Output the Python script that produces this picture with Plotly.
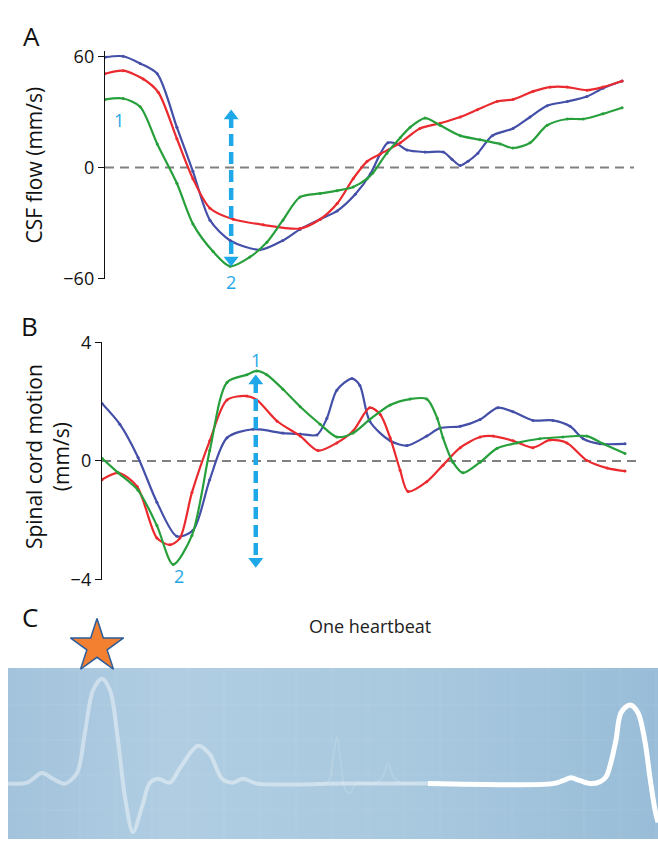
import plotly.graph_objects as go

# ---------------- Panel A: CSF flow (mm/s) ----------------
a_blue_t = [0, 3.5, 6.8, 10.1, 13.9, 17.0, 20.3, 24.2, 30.0, 34.4, 37.7, 41.6, 44.9, 48.4, 51.3,
            53.2, 54.7, 56.5, 58.4, 61.9, 65.4, 67.1, 68.7, 70.2, 72.1, 74.9, 78.9, 82.2, 85.5,
            89.4, 93.2, 96.3, 100]
a_blue = [59.8, 60.3, 56.4, 50.8, 21.8, -2.0, -28.5, -39.5, -44.5, -39.5, -33.5, -28.0, -23.5,
          -14.5, -3.5, 7.3, 13.4, 12.8, 9.5, 8.4, 8.4, 4.5, 1.1, 3.4, 7.8, 17.3, 21.2, 27.4, 33.5,
          35.8, 38.5, 43.0, 46.9]

a_red_t = [0, 3.5, 7.4, 10.3, 13.9, 17.0, 20.3, 24.8, 30.6, 37.7, 41.6, 44.9, 48.0, 50.7, 53.2,
           57.1, 60.9, 64.8, 68.7, 72.0, 75.8, 78.9, 82.8, 86.1, 89.4, 93.2, 96.3, 100]
a_red = [50.8, 52.5, 48.0, 40.8, 15.6, -6.0, -22.0, -28.0, -31.0, -33.0, -28.0, -19.5, -6.0, 3.4,
         7.3, 13.4, 21.2, 24.0, 27.4, 31.3, 35.8, 36.9, 41.3, 43.6, 43.6, 41.9, 43.6, 46.9]

a_green_t = [0, 3.5, 6.8, 10.1, 13.9, 17.0, 20.9, 24.2, 28.0, 31.3, 34.4, 37.7, 41.6, 44.9, 48.0,
             50.7, 51.8, 54.5, 57.1, 59.0, 61.9, 64.8, 68.7, 72.5, 76.4, 78.9, 82.2, 85.5, 89.4,
             92.5, 96.3, 100]
a_green = [36.9, 37.4, 33.0, 12.8, -8.5, -30.5, -45.5, -53.5, -48.5, -40.5, -28.5, -16.0, -14.0,
           -12.5, -10.5, -6.0, -3.0, 7.8, 16.2, 21.8, 26.8, 22.9, 17.3, 15.1, 12.8, 10.6, 13.4,
           22.9, 26.3, 26.3, 29.1, 32.4]

a_ticks = [-60, 0, 60]
a_arrow_t, a_arrow_top, a_arrow_bot = 24.4, 28.0, -50.0
a_label1 = (2.7, 25.7)
a_label2 = (24.4, -62.0)

# ---------------- Panel B: spinal cord motion (mm/s) ----------------
b_blue_t = [0, 3.4, 6.9, 10.5, 14.3, 17.4, 20.6, 23.9, 28.9, 34.6, 37.9, 41.1, 43.0, 44.9, 47.8,
            49.3, 51.2, 55.1, 58.3, 62.1, 64.6, 68.5, 72.3, 75.7, 78.6, 82.4, 86.2, 89.5, 92.0,
            95.2, 100]
b_blue = [1.94, 1.24, 0.12, -1.39, -2.54, -2.34, -0.63, 0.78, 1.07, 0.94, 0.91, 0.88, 1.44, 2.39,
          2.78, 2.55, 1.34, 0.68, 0.52, 0.84, 1.11, 1.17, 1.40, 1.80, 1.66, 1.37, 1.37, 1.17, 0.75,
          0.58, 0.58]

b_green_t = [0, 3.1, 6.9, 10.5, 13.6, 17.2, 20.6, 23.9, 27.7, 29.6, 31.5, 34.6, 37.9, 41.7, 44.9,
             48.0, 51.2, 55.1, 58.9, 62.1, 64.1, 65.2, 67.1, 69.0, 72.3, 75.5, 79.3, 83.7, 88.1,
             92.7, 95.8, 100]
b_green = [0.09, -0.40, -0.99, -2.18, -3.49, -2.51, 0.35, 2.65, 2.91, 3.04, 2.91, 2.42, 1.83, 1.24,
           0.81, 0.94, 1.40, 1.89, 2.09, 2.09, 1.44, 0.78, -0.04, -0.40, -0.04, 0.42, 0.61, 0.75,
           0.81, 0.84, 0.58, 0.25]

b_red_t = [0, 3.1, 6.7, 10.5, 13.0, 14.9, 17.2, 20.6, 23.9, 27.7, 29.6, 33.5, 37.9, 41.3, 44.9,
           48.0, 51.2, 53.2, 55.1, 57.0, 58.5, 62.1, 65.2, 68.5, 72.3, 74.8, 78.6, 82.4, 85.7,
           88.9, 92.7, 96.6, 100]
b_red = [-0.63, -0.40, -0.86, -2.60, -2.83, -2.60, -1.06, 0.68, 2.06, 2.19, 2.06, 1.34, 0.84, 0.35,
         0.61, 1.01, 1.80, 1.57, 0.78, -0.31, -1.03, -0.70, -0.14, 0.45, 0.81, 0.84, 0.68, 0.45,
         0.71, 0.61, 0.02, -0.24, -0.34]

b_ticks = [-4, 0, 4]
b_arrow_t, b_arrow_top, b_arrow_bot = 29.4, 2.70, -3.38
b_label1 = (29.4, 3.41)
b_label2 = (14.7, -3.88)

# ---------------- Panel C: ECG ----------------
ecg_past_t = [8, 27, 42, 53, 65, 77, 85, 93, 102, 110, 117, 125, 133, 142, 150, 158, 170, 180, 198,
              210, 222, 233, 243, 257, 340, 428]
ecg_past_v = [0, 1, 11, 5, 0, 11, 53, 96, 108, 96, 53, -14, -50, -24, 1, 5, 1, 16, 39, 30, 5, 1, 5,
              0, 0, 0]
ecg_ghost_t = [318, 328, 333, 337, 341, 345, 350, 356, 375, 383, 388, 393, 400, 415]
ecg_ghost_v = [0, 2, 25, 48, 20, -5, -10, 0, 0, 8, 21, 8, 1, 0]
ecg_now_t = [428, 553, 563, 571, 580, 591, 600, 606, 611, 616, 621, 630, 638, 645, 650, 655, 658]
ecg_now_v = [0, 0, 3, 6, 3, 0, 2, 7, 22, 45, 73, 81, 73, 43, 6, -27, -40]
ecg_bottom, ecg_top = -57, 119
star_t, star_v = 97, 141

BLUE = "#444fa8"
RED = "#ea2a2e"
GREEN = "#27a03c"
CYAN = "#1ea8e8"
FONT = "Open Sans"

W, H = 658, 850


def px_x(p):
    return p / W


def px_y(p):
    return 1 - p / H


fig = go.Figure()

# Panel A curves
for t, v, c in [(a_blue_t, a_blue, BLUE), (a_red_t, a_red, RED), (a_green_t, a_green, GREEN)]:
    fig.add_trace(go.Scatter(x=t, y=v, mode="lines+markers", line=dict(color=c, width=2.2, shape="spline", smoothing=0.8),
                             marker=dict(size=3, color=c), xaxis="x", yaxis="y", showlegend=False, hoverinfo="skip"))
# Panel B curves
for t, v, c in [(b_blue_t, b_blue, BLUE), (b_red_t, b_red, RED), (b_green_t, b_green, GREEN)]:
    fig.add_trace(go.Scatter(x=t, y=v, mode="lines+markers", line=dict(color=c, width=2.2, shape="spline", smoothing=0.8),
                             marker=dict(size=3, color=c), xaxis="x2", yaxis="y2", showlegend=False, hoverinfo="skip"))

# Arrows
for xa, ya, at, top, bot in [("x", "y", a_arrow_t, a_arrow_top, a_arrow_bot),
                             ("x2", "y2", b_arrow_t, b_arrow_top, b_arrow_bot)]:
    fig.add_trace(go.Scatter(x=[at, at], y=[top, bot], mode="lines",
                             line=dict(color=CYAN, width=4.5, dash="12px,6px"),
                             xaxis=xa, yaxis=ya, showlegend=False, hoverinfo="skip"))
    fig.add_trace(go.Scatter(x=[at, at], y=[top, bot], mode="markers",
                             marker=dict(symbol=["triangle-up", "triangle-down"], size=13, color=CYAN),
                             xaxis=xa, yaxis=ya, showlegend=False, hoverinfo="skip", cliponaxis=False))

# Panel C background (gradient)
fig.add_trace(go.Scatter(x=[8, 658, 658, 8, 8], y=[ecg_bottom, ecg_bottom, ecg_top, ecg_top, ecg_bottom],
                         mode="none", fill="toself",
                         fillgradient=dict(type="horizontal",
                                           colorscale=[[0, "#a3c3dc"], [0.25, "#b0cde2"], [0.6, "#a9c9df"], [1, "#99bdd8"]]),
                         xaxis="x3", yaxis="y3", showlegend=False, hoverinfo="skip"))
fig.add_trace(go.Scatter(x=ecg_ghost_t, y=ecg_ghost_v, mode="lines",
                         line=dict(color="rgba(255,255,255,0.12)", width=2, shape="spline"),
                         xaxis="x3", yaxis="y3", showlegend=False, hoverinfo="skip"))
fig.add_trace(go.Scatter(x=ecg_past_t, y=ecg_past_v, mode="lines",
                         line=dict(color="rgba(255,255,255,0.42)", width=4, shape="spline", smoothing=0.9),
                         xaxis="x3", yaxis="y3", showlegend=False, hoverinfo="skip"))
fig.add_trace(go.Scatter(x=ecg_now_t, y=ecg_now_v, mode="lines",
                         line=dict(color="white", width=5, shape="spline", smoothing=0.9),
                         xaxis="x3", yaxis="y3", showlegend=False, hoverinfo="skip"))
fig.add_trace(go.Scatter(x=[star_t], y=[star_v], mode="markers",
                         marker=dict(symbol="star", size=40, color="#f28030", line=dict(color="#2b5c9c", width=1.5)),
                         xaxis="x3", yaxis="y3", showlegend=False, hoverinfo="skip", cliponaxis=False))

shapes = []
for xr, yr in [("x domain", "y"), ("x2 domain", "y2")]:
    shapes.append(dict(type="line", xref=xr, yref=yr, x0=0, x1=1, y0=0, y1=0, layer="below",
                       line=dict(color="#808080", width=2, dash="9px,6px")))
# faint ECG paper grid
g = 8 + 36
while g < 658:
    shapes.append(dict(type="line", xref="x3", yref="y3", x0=g, x1=g, y0=ecg_bottom, y1=ecg_top, layer="above",
                       line=dict(color="rgba(255,255,255,0.09)", width=1)))
    g += 36
gy = ecg_bottom + 30
while gy < ecg_top:
    shapes.append(dict(type="line", xref="x3", yref="y3", x0=8, x1=658, y0=gy, y1=gy, layer="above",
                       line=dict(color="rgba(255,255,255,0.07)", width=1)))
    gy += 36

ann = []
for txt, x, y in [("A", 31, 24), ("B", 29, 322), ("C", 30, 622)]:
    ann.append(dict(text=txt, x=px_x(x), y=px_y(y), xref="paper", yref="paper", showarrow=False,
                    xanchor="center", yanchor="middle", font=dict(family=FONT, size=26, color="#111")))
ann.append(dict(text="CSF flow (mm/s)", x=px_x(34), y=px_y(157), xref="paper", yref="paper", showarrow=False,
                textangle=-90, xanchor="center", yanchor="middle", font=dict(family=FONT, size=21, color="#111")))
ann.append(dict(text="Spinal cord motion<br>(mm/s)", x=px_x(47), y=px_y(457), xref="paper", yref="paper",
                showarrow=False, textangle=-90, xanchor="center", yanchor="middle",
                font=dict(family=FONT, size=21, color="#111")))
ann.append(dict(text="One heartbeat", x=px_x(370), y=px_y(631), xref="paper", yref="paper", showarrow=False,
                xanchor="center", yanchor="middle", font=dict(family=FONT, size=18, color="#222")))
# data-positioned labels; label "2" of panel A sits below the axis range, so place it with the
# y axis domain reference computed from its value
a_rng = (-60.5, 63.2)
for txt, (x, y), xa, ya in [("1", a_label1, "x", "y"), ("2", a_label2, "x", "y"),
                            ("1", b_label1, "x2", "y2"), ("2", b_label2, "x2", "y2")]:
    d = dict(text=txt, x=x, y=y, xref=xa, yref=ya, showarrow=False, xanchor="center", yanchor="middle",
             font=dict(family=FONT, size=18, color=CYAN))
    if ya == "y" and y < a_rng[0]:
        d["yref"] = "y domain"
        d["y"] = (y - a_rng[0]) / (a_rng[1] - a_rng[0])
    ann.append(d)

yax_common = dict(showline=True, linecolor="#111", linewidth=1.4, ticks="outside", ticklen=6, tickwidth=1.4,
                  tickcolor="#111", showgrid=False, zeroline=False,
                  tickfont=dict(family=FONT, size=18, color="#111"), fixedrange=True)

fig.update_layout(
    width=W, height=H, margin=dict(l=0, r=0, t=0, b=0),
    paper_bgcolor="white", plot_bgcolor="rgba(0,0,0,0)",
    xaxis=dict(domain=[px_x(105), px_x(634)], range=[0, 102.3], visible=False, fixedrange=True),
    yaxis=dict(domain=[px_y(274), px_y(39)], range=list(a_rng), tickvals=a_ticks, anchor="x", **yax_common),
    xaxis2=dict(domain=[px_x(102), px_x(636)], range=[0, 102.1], visible=False, fixedrange=True),
    yaxis2=dict(domain=[px_y(583), px_y(339)], range=[-4, 4], tickvals=b_ticks, anchor="x2", **yax_common),
    xaxis3=dict(domain=[0, 1], range=[0, 658], visible=False, fixedrange=True),
    yaxis3=dict(domain=[0, px_y(620)], range=[-57, 173], visible=False, fixedrange=True),
    shapes=shapes, annotations=ann, showlegend=False,
)

fig.write_html("out.html")
